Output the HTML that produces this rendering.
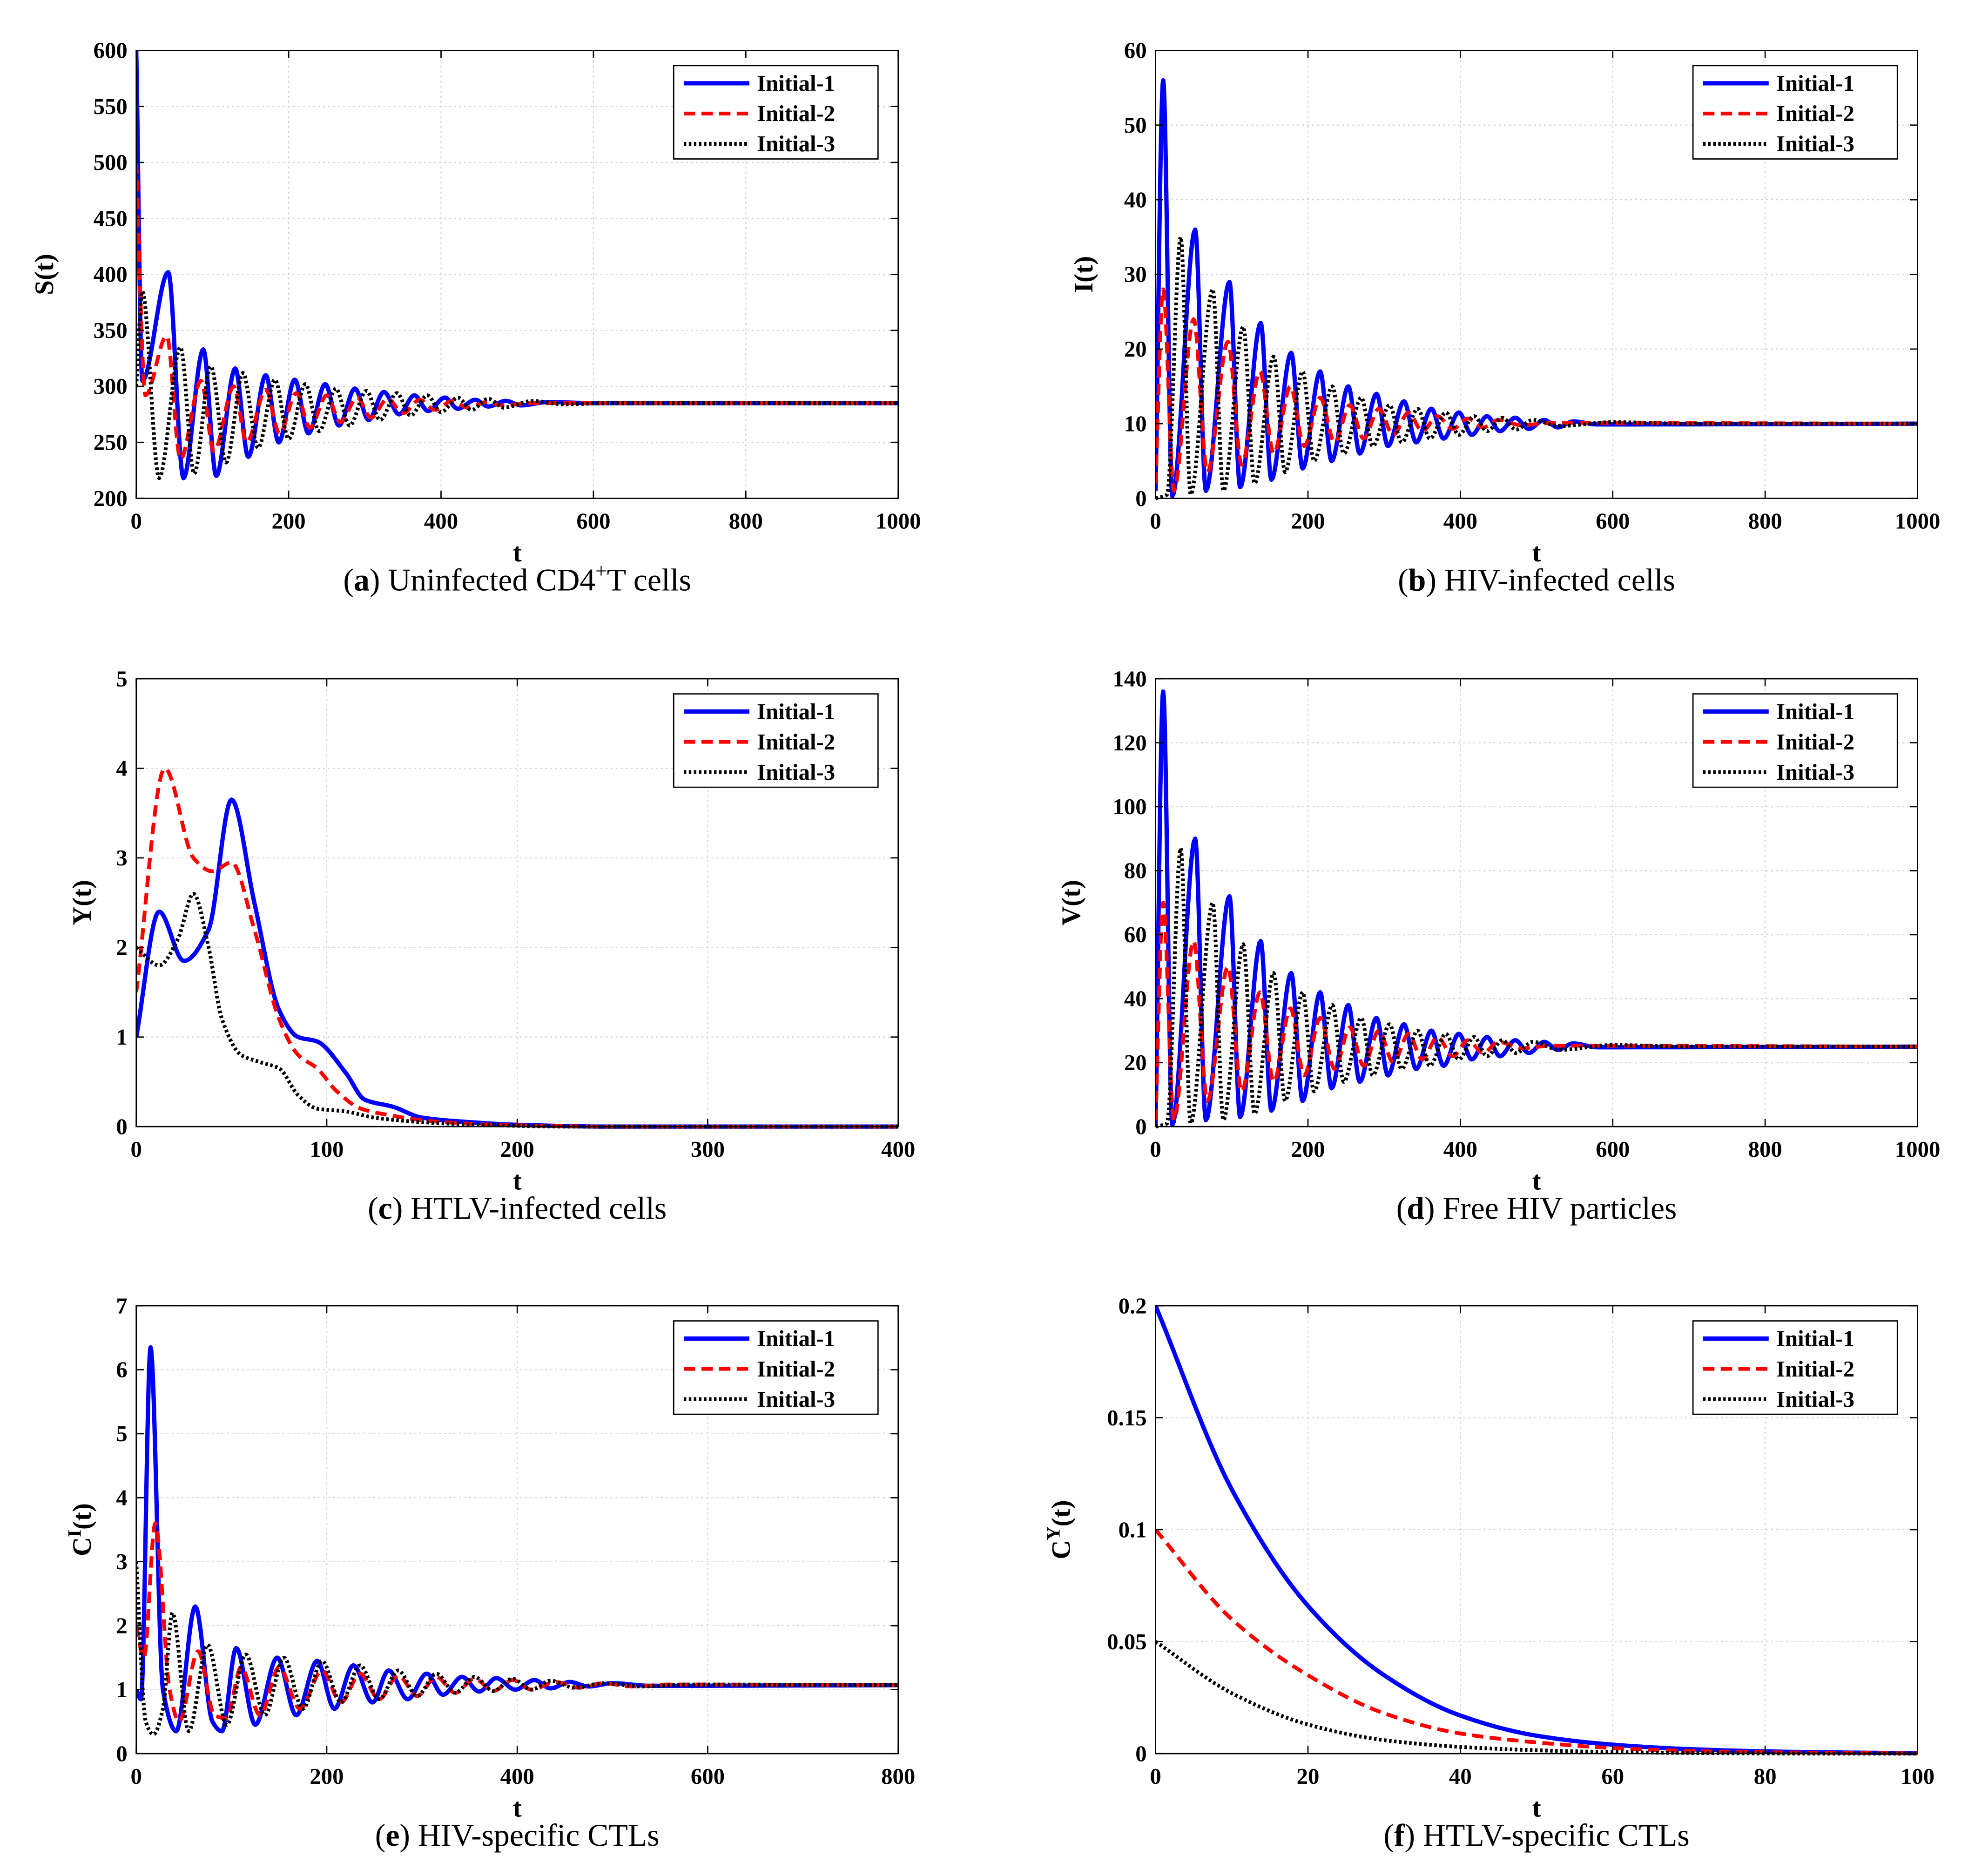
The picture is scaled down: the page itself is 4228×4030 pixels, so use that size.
<!DOCTYPE html>
<html><head><meta charset="utf-8"><style>
html,body{margin:0;padding:0;background:#fff;}
svg{display:block;}
text{font-family:"Liberation Serif",serif;}
</style></head><body>
<svg id="fig" width="4228" height="4030" viewBox="0 0 1560 1487" preserveAspectRatio="none" xmlns="http://www.w3.org/2000/svg">
<rect x="0" y="0" width="1560" height="1487" fill="#fff"/>
</svg>
<script>
// ---- data (t,value) pairs per series ----
const tA1=[0,8,42,62,88,105,130,147,170,187,208,226,248,266,287,305,325,345,365,383,405,422,445,462,485,505,540,600,1000];
const vA1=[600,305,402,218,333,220,316,237,310,250,306,258,302,265,298,270,295,275,292,278,290,280,288,282,287,283,286,285,285];
const tA2=[0,12,40,58,85,102,128,145,170,188,210,228,250,268,290,308,330,350,372,392,415,435,460,480,520,1000];
const vA2=[500,292,345,235,305,242,300,250,297,258,294,263,292,268,290,272,289,276,288,279,287,281,286,283,285,285];
const tA3=[0,8,30,58,76,98,118,140,160,182,200,222,240,262,280,302,320,342,360,382,400,422,440,462,482,520,560,620,1000];
const vA3=[300,385,218,335,222,318,232,312,245,306,253,302,260,298,265,296,270,294,274,292,277,290,279,289,281,287,284,285,285];

const tB1=[0,10,22,52,66,97,111,138,152,178,193,216,231,253,268,290,305,326,342,362,378,398,415,435,452,472,490,510,528,548,580,1000];
const vB1=[1,56,0.3,36,1,29,1.5,23.5,2.5,19.5,4,17,5,15,6,14,7,13,7.5,12,8,11.5,8.5,11,9,10.8,9.3,10.5,9.5,10.3,9.9,10];
const tB2=[0,10,24,50,68,95,113,137,155,177,195,216,235,255,273,293,312,332,350,370,390,410,430,450,480,520,1000];
const vB2=[2,28,1,24,3.5,21,4.5,17,6,15,7,13.5,7.5,12.5,8,12,8.5,11.5,9,11,9.3,10.7,9.5,10.5,9.8,10.1,10];
const tB3=[0,15,33,46,75,89,115,130,155,170,193,208,232,247,270,285,307,323,344,360,381,398,418,435,455,473,495,530,600,700,1000];
const vB3=[0,0.5,35,0.5,28,1,23,2,19,3.5,17,5,15,6,13.5,7,12.5,7.5,12,8,11.5,8.5,11,9,10.8,9.2,10.5,9.7,10.2,10,10];

const tC1=[0,12,25,38,50,62,75,85,95,110,120,135,150,175,200,250,400];
const vC1=[1,2.4,1.85,2.2,3.65,2.5,1.3,1.0,0.95,0.6,0.3,0.22,0.1,0.05,0.02,0,0];
const tC2=[0,15,30,40,50,62,75,85,95,105,118,135,155,190,250,400];
const vC2=[1.5,4.0,3.0,2.85,2.95,2.2,1.2,0.8,0.65,0.4,0.2,0.12,0.06,0.02,0,0];
const tC3=[0,12,22,30,38,45,55,65,75,85,95,110,125,150,180,230,400];
const vC3=[2,1.8,2.1,2.6,2.0,1.2,0.8,0.72,0.65,0.35,0.2,0.17,0.1,0.05,0.02,0,0];

const tD1=[0,10,22,52,66,97,111,138,152,178,193,216,231,253,268,290,305,326,342,362,378,398,415,435,452,472,490,510,528,548,580,1000];
const vD1=[0,136,0.5,90,2,72,3,58,5,48,8,42,12,38,14,34,16,32,18,30,19,29,21,28,22,27,23,26.5,24,26,24.8,25];
const tD2=[0,10,24,50,68,95,113,137,155,177,195,216,235,255,273,293,312,332,350,370,390,410,430,450,480,520,1000];
const vD2=[2,70,2,58,8,50,11,42,14,37,16,34,18,31,19,30,20,29,21,28,22,27,23,26.5,24.5,25.3,25];
const tD3=[0,15,33,46,75,89,115,130,155,170,193,208,232,247,270,285,307,323,344,360,381,398,418,435,455,473,495,530,600,700,1000];
const vD3=[0,1,87,1,70,2,57,4,48,8,42,11,38,14,34,16,32,18,30,19,29,21,28,22,27,23,26.5,24,25.5,25,25];

const tE1=[0,5,15,28,42,62,80,90,105,125,148,168,190,208,228,248,265,285,305,322,342,360,378,398,418,435,455,475,500,540,800];
const vE1=[1,0.85,6.35,1,0.35,2.3,0.5,0.35,1.65,0.45,1.5,0.6,1.45,0.7,1.38,0.8,1.3,0.85,1.25,0.92,1.2,0.97,1.18,1,1.15,1.02,1.12,1.05,1.1,1.06,1.07];
const tE2=[0,8,20,35,45,65,82,95,110,130,150,172,195,215,235,255,275,295,315,335,355,375,395,415,440,465,490,520,560,800];
const vE2=[2,1.5,3.6,1,0.5,1.6,0.6,0.55,1.35,0.6,1.35,0.7,1.3,0.8,1.25,0.85,1.22,0.9,1.2,0.95,1.17,0.98,1.15,1,1.12,1.03,1.1,1.05,1.08,1.07];
const tE3=[0,10,18,28,38,55,75,95,115,135,155,175,195,215,235,255,275,295,315,335,355,375,395,415,435,460,490,530,580,800];
const vE3=[3,0.5,0.3,0.7,2.2,0.35,1.7,0.45,1.55,0.6,1.5,0.7,1.45,0.8,1.38,0.85,1.3,0.9,1.25,0.95,1.2,0.98,1.17,1.0,1.14,1.03,1.1,1.05,1.08,1.07];

const tF=[0,10,20,30,40,50,60,70,80,90,100];
const vF1=[0.2,0.118,0.066,0.035,0.017,0.008,0.004,0.002,0.001,0.0005,0.0002];
const vF2=[0.1,0.06,0.035,0.018,0.009,0.005,0.0025,0.0012,0.0006,0.0003,0.0001];
const vF3=[0.05,0.027,0.013,0.006,0.003,0.0015,0.0007,0.0003,0.0001,0,0];

const xTicksA=[0,200,400,600,800,1000], yTicksA=[200,250,300,350,400,450,500,550,600];
const xTicksB=[0,200,400,600,800,1000], yTicksB=[0,10,20,30,40,50,60];
const xTicksC=[0,100,200,300,400], yTicksC=[0,1,2,3,4,5];
const xTicksD=[0,200,400,600,800,1000], yTicksD=[0,20,40,60,80,100,120,140];
const xTicksE=[0,200,400,600,800], yTicksE=[0,1,2,3,4,5,6,7];
const xTicksF=[0,20,40,60,80,100], yTicksF=[0,0.05,0.1,0.15,0.2];
const yTickLabF=["0","0.05","0.1","0.15","0.2"];

const NS="http://www.w3.org/2000/svg";
const svg=document.getElementById('fig');
function mk(tag,attrs,parent){const e=document.createElementNS(NS,tag);for(const k in attrs)e.setAttribute(k,attrs[k]);(parent||svg).appendChild(e);return e;}

// monotone cubic hermite interpolation
function monotone(xs,ys){
  const n=xs.length,d=[],m=new Array(n);
  for(let i=0;i<n-1;i++)d.push((ys[i+1]-ys[i])/(xs[i+1]-xs[i]));
  m[0]=d[0];m[n-1]=d[n-2];
  for(let i=1;i<n-1;i++){ if(d[i-1]*d[i]<=0)m[i]=0; else m[i]=2/(1/d[i-1]+1/d[i]); }
  const out=[];
  for(let i=0;i<n-1;i++){
    const h=xs[i+1]-xs[i],N=16;
    for(let k=0;k<N;k++){
      const s=k/N,s2=s*s,s3=s2*s;
      const y=(2*s3-3*s2+1)*ys[i]+(s3-2*s2+s)*h*m[i]+(-2*s3+3*s2)*ys[i+1]+(s3-s2)*h*m[i+1];
      out.push([xs[i]+s*h,y]);
    }
  }
  out.push([xs[n-1],ys[n-1]]);
  return out;
}

const styles=[
  {stroke:"#0000ff",w:3.4,dash:""},
  {stroke:"#ff0000",w:3,dash:"9 5"},
  {stroke:"#000000",w:3,dash:"2 2"}
];

function panel(o){
  const g=mk('g',{});
  
  
  const L=o.x,T=o.y,W=604,H=355;
  const sx=v=>L+(v-o.xmin)/(o.xmax-o.xmin)*W;
  const sy=v=>T+H-(v-o.ymin)/(o.ymax-o.ymin)*H;
  // grid
  o.xt.forEach(v=>{const l=mk('line',{x1:sx(v),x2:sx(v),y1:T,y2:T+H,stroke:"#d0d0d0","stroke-width":0.8,"stroke-dasharray":"1.5 2.5"},g);
    });
  o.yt.forEach(v=>{const l=mk('line',{x1:L,x2:L+W,y1:sy(v),y2:sy(v),stroke:"#d0d0d0","stroke-width":0.8,"stroke-dasharray":"1.5 2.5"},g);
    });
  // series
  const clip=mk('clipPath',{id:'c'+o.id},g);mk('rect',{x:L,y:T-2,width:W,height:H+4},clip);
  o.series.forEach((s,i)=>{
    const pts=monotone(s[0],s[1]);
    const d=pts.map((p,j)=>(j?'L':'M')+sx(p[0]).toFixed(2)+','+sy(p[1]).toFixed(2)).join('');
    const p=mk('path',{d:d,fill:"none",stroke:styles[i].stroke,"stroke-width":styles[i].w,"stroke-dasharray":styles[i].dash,"clip-path":`url(#c${o.id})`,"stroke-linejoin":"round"},g);
    
    
  });
  // box
  const bx=mk('rect',{x:L,y:T,width:W,height:H,fill:"none",stroke:"#000","stroke-width":1},g);
  
  // ticks
  o.xt.forEach(v=>{
    mk('line',{x1:sx(v),x2:sx(v),y1:T+H,y2:T+H-6,stroke:"#000","stroke-width":1},g);
    mk('line',{x1:sx(v),x2:sx(v),y1:T,y2:T+6,stroke:"#000","stroke-width":1},g);
    const t=mk('text',{x:sx(v),y:T+H+24,"text-anchor":"middle","font-size":18,"font-weight":"bold"},g);t.textContent=v;
    
  });
  o.yt.forEach((v,i)=>{
    mk('line',{x1:L,x2:L+6,y1:sy(v),y2:sy(v),stroke:"#000","stroke-width":1},g);
    mk('line',{x1:L+W,x2:L+W-6,y1:sy(v),y2:sy(v),stroke:"#000","stroke-width":1},g);
    const t=mk('text',{x:L-7,y:sy(v)+6,"text-anchor":"end","font-size":18,"font-weight":"bold"},g);t.textContent=o.ylab?o.ylab[i]:v;
    
  });
  const xl=mk('text',{x:L+W/2,y:T+H+50,"text-anchor":"middle","font-size":21,"font-weight":"bold"},g);xl.textContent='t';
  
  const yl=mk('text',{x:0,y:0,"text-anchor":"middle","font-size":21,"font-weight":"bold",transform:`translate(${o.ylx},${T+H/2}) rotate(-90)`},g);
  yl.innerHTML=o.yhtml;
  
  const cap=mk('text',{x:L+W/2,y:T+H+73,"text-anchor":"middle","font-size":25},g);
  cap.innerHTML=o.cap;
  
  // legend
  const lg=mk('g',{},g);
  const lx=L+W-178,ly=T+12;
  mk('rect',{x:lx,y:ly,width:162,height:74,fill:"#fff",stroke:"#000","stroke-width":1},lg);
  ["Initial-1","Initial-2","Initial-3"].forEach((n,i)=>{
    const e=mk('g',{},lg);
    const yy=ly+14+i*24;
    mk('line',{x1:lx+8,x2:lx+60,y1:yy,y2:yy,stroke:styles[i].stroke,"stroke-width":styles[i].w,"stroke-dasharray":styles[i].dash},e);
    const t=mk('text',{x:lx+66,y:yy+6,"font-size":18,"font-weight":"bold"},e);t.textContent=n;
  });
}

panel({id:'a',name:'panel-a-uninfected-cd4',x:108,y:40,xmin:0,xmax:1000,ymin:200,ymax:600,xt:xTicksA,yt:yTicksA,ylx:42,
  yhtml:'S(t)',cap:'(<tspan font-weight="bold">a</tspan>) Uninfected CD4<tspan font-size="16" dy="-10">+</tspan><tspan dy="10">T cells</tspan>',
  series:[[tA1,vA1],[tA2,vA2],[tA3,vA3]]});
panel({id:'b',name:'panel-b-hiv-infected',x:916,y:40,xmin:0,xmax:1000,ymin:0,ymax:60,xt:xTicksB,yt:yTicksB,ylx:866,
  yhtml:'I(t)',cap:'(<tspan font-weight="bold">b</tspan>) HIV-infected cells',
  series:[[tB1,vB1],[tB2,vB2],[tB3,vB3]]});
panel({id:'c',name:'panel-c-htlv-infected',x:108,y:538,xmin:0,xmax:400,ymin:0,ymax:5,xt:xTicksC,yt:yTicksC,ylx:72,
  yhtml:'Y(t)',cap:'(<tspan font-weight="bold">c</tspan>) HTLV-infected cells',
  series:[[tC1,vC1],[tC2,vC2],[tC3,vC3]]});
panel({id:'d',name:'panel-d-free-hiv',x:916,y:538,xmin:0,xmax:1000,ymin:0,ymax:140,xt:xTicksD,yt:yTicksD,ylx:856,
  yhtml:'V(t)',cap:'(<tspan font-weight="bold">d</tspan>) Free HIV particles',
  series:[[tD1,vD1],[tD2,vD2],[tD3,vD3]]});
panel({id:'e',name:'panel-e-hiv-ctl',x:108,y:1035,xmin:0,xmax:800,ymin:0,ymax:7,xt:xTicksE,yt:yTicksE,ylx:72,
  yhtml:'C<tspan font-size="15" dy="-8">I</tspan><tspan dy="8">(t)</tspan>',cap:'(<tspan font-weight="bold">e</tspan>) HIV-specific CTLs',
  series:[[tE1,vE1],[tE2,vE2],[tE3,vE3]]});
panel({id:'f',name:'panel-f-htlv-ctl',x:916,y:1035,xmin:0,xmax:100,ymin:0,ymax:0.2,xt:xTicksF,yt:yTicksF,ylab:yTickLabF,ylx:848,
  yhtml:'C<tspan font-size="15" dy="-8">Y</tspan><tspan dy="8">(t)</tspan>',cap:'(<tspan font-weight="bold">f</tspan>) HTLV-specific CTLs',
  series:[[tF,vF1],[tF,vF2],[tF,vF3]]});
</script>
</body></html>
